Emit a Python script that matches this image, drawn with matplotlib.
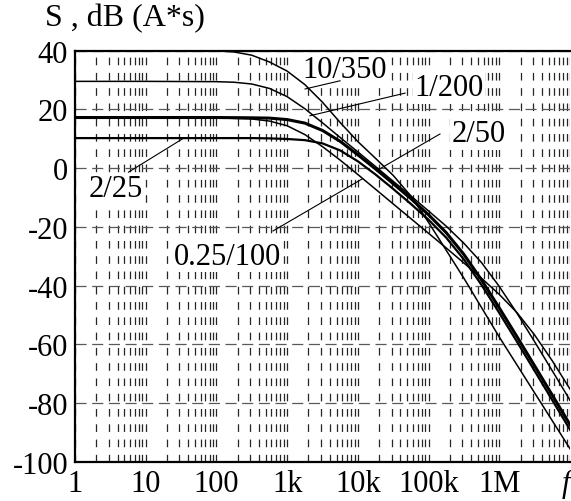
import matplotlib
matplotlib.use("Agg")
import matplotlib.pyplot as plt
from matplotlib.ticker import LogLocator, NullFormatter

plt.rcParams['font.family'] = ['Liberation Serif', 'DejaVu Serif']
plt.rcParams['lines.scale_dashes'] = False

# frequency points (Hz) at quarter decades
freq = [1, 10, 100, 178, 316, 562, 1000, 1780, 3160, 5620,
        1e4, 1.78e4, 3.16e4, 5.62e4, 1e5, 1.78e5, 3.16e5, 5.62e5,
        1e6, 1.78e6, 3.16e6, 5.62e6, 1e7]

# spectra in dB (A*s)
s_10_350 = [40, 40, 39.9, 39.5, 38.4, 36.1, 33.0, 28.4, 22.4, 15.5,
            9.0, 3.3, -2.5, -9.5, -18.5, -28.0, -37.5, -47.5,
            -57.5, -67.0, -76.5, -86.0, -95.5]
s_1_200 = [29.5, 29.5, 29.4, 29.2, 28.6, 27.1, 24.3, 20.2, 15.4, 10.4,
           5.5, 0.5, -4.5, -9.5, -14.6, -19.8, -25.6, -32.2,
           -40.3, -49.4, -59.1, -69.0, -79.0]
s_2_50 = [17.2, 17.2, 17.2, 17.15, 17.1, 17.0, 16.5, 15.3, 12.8, 9.1,
          4.5, -0.3, -5.3, -10.4, -15.9, -22.0, -29.4, -38.1,
          -47.6, -57.4, -67.3, -77.3, -87.3]
s_2_25 = [10.2, 10.2, 10.2, 10.2, 10.2, 10.1, 9.9, 9.5, 8.4, 6.0,
          2.3, -2.2, -7.1, -12.2, -17.6, -23.7, -31.1, -39.8,
          -49.3, -59.1, -69.0, -79.0, -89.0]
s_025_100 = [17.2, 17.2, 17.1, 16.9, 16.7, 16.0, 14.4, 11.4, 7.3, 2.7,
             -2.2, -7.2, -12.2, -17.2, -22.2, -27.2, -32.3, -37.5,
             -43.0, -49.2, -56.8, -65.6, -75.2]

xticks = [1, 10, 100, 1e3, 1e4, 1e5, 1e6, 1e7]
xlabels = ["1", "10", "100", "1k", "10k", "100k", "1M", "f"]
yticks = [-100, -80, -60, -40, -20, 0, 20, 40]
ylabels = ["-100", "-80", "-60", "-40", "-20", "0", "20", "40"]

# label text, text position, pointer start, pointer end
labels = [
    ("10/350", (6.6e3, 33.4), (5.6e3, 29.7), (1.79e3, 26.9)),
    ("1/200", (1.95e5, 27.4), (4.65e4, 25.5), (2.1e3, 17.8)),
    ("2/50", (5.1e5, 11.6), (1.45e5, 11.6), (1.93e4, -0.6)),
    ("2/25", (3.8, -7.1), (5.7, -1.4), (34, 10.1)),
    ("0.25/100", (144, -30.0), (630, -21.4), (1.15e4, -3.7)),
]

fig = plt.figure(figsize=(5.71, 5.02), dpi=100)
ax = fig.add_axes([0.1313, 0.0777, 0.8670, 0.8197])

ax.plot(freq, s_10_350, color="black", lw=1.1, zorder=3)
ax.plot(freq, s_1_200, color="black", lw=1.1, zorder=3)
ax.plot(freq, s_025_100, color="black", lw=1.1, zorder=3)
ax.plot(freq, s_2_25, color="black", lw=1.6, zorder=3)
ax.plot(freq, s_2_50, color="black", lw=2.2, zorder=3)

for txt, pos, p0, p1 in labels:
    ax.text(pos[0], pos[1], txt, fontsize=22, ha="center", va="center", zorder=2,
            bbox=dict(facecolor="white", edgecolor="none", pad=1))
    ax.plot([p0[0], p1[0]], [p0[1], p1[1]], color="black", lw=0.8, zorder=3)

ax.set_xscale("log")
ax.set_xlim(1, 1e7)
ax.set_ylim(-100, 40)
ax.set_xticks(xticks)
ax.set_xticklabels(xlabels)
ax.xaxis.set_minor_locator(LogLocator(base=10, subs=range(2, 10), numticks=50))
ax.xaxis.set_minor_formatter(NullFormatter())
flab = ax.get_xticklabels()[-1]
flab.set_fontstyle("italic")
flab.set_horizontalalignment("right")
ax.set_yticks(yticks)
ax.set_yticklabels(ylabels)
ax.tick_params(axis="both", which="both", length=0, labelsize=22)
ax.tick_params(axis="x", pad=5)
ax.tick_params(axis="y", pad=5)

ax.grid(True, axis="x", which="both", color="0.15", lw=0.9, linestyle=(0, (5.5, 5.5)))
ax.grid(True, axis="y", which="major", color="0.35", lw=0.9, linestyle=(0, (8, 4)))
ax.set_axisbelow(True)

for side in ["left", "bottom", "top"]:
    ax.spines[side].set_linewidth(1.6)
ax.spines["right"].set_visible(False)

fig.text(0.079, 0.962, "S , dB (A*s)", fontsize=23, ha="left", va="center")

fig.savefig("out.png", dpi=100)
